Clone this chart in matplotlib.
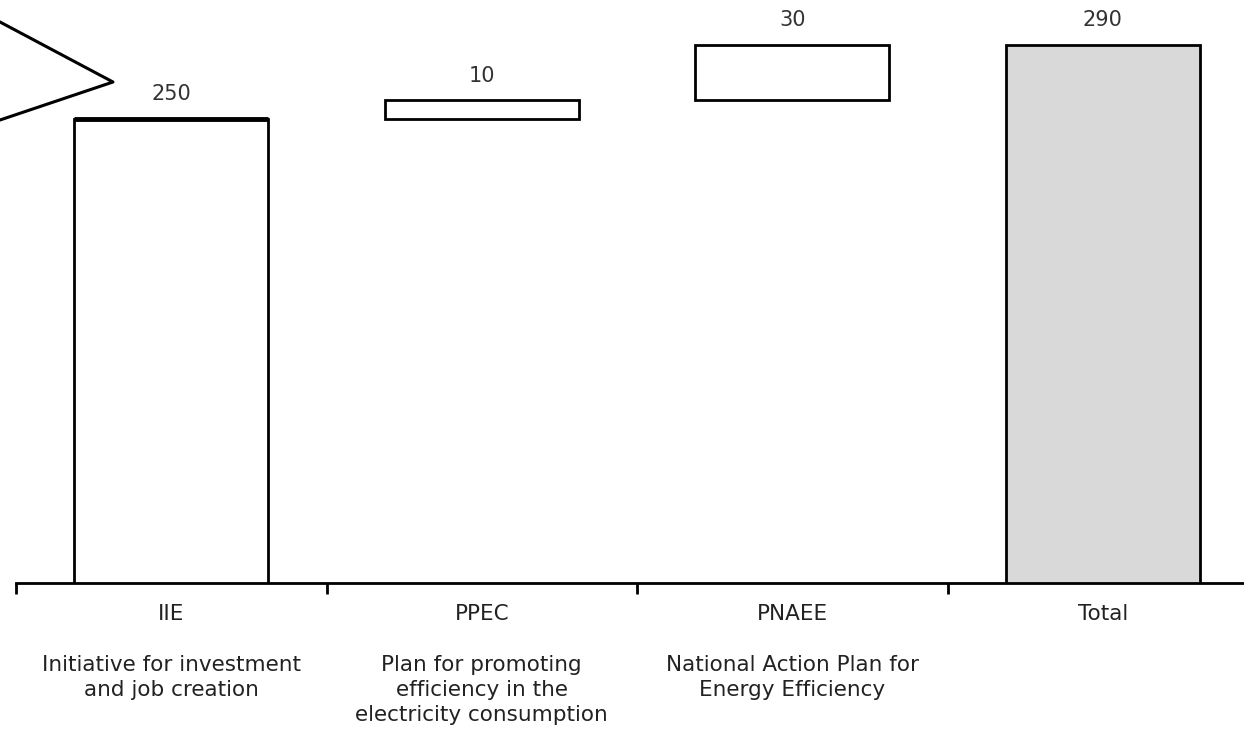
import matplotlib
matplotlib.use("Agg")
import matplotlib.pyplot as plt
from matplotlib.lines import Line2D

plt.rcParams['font.family'] = ['DejaVu Sans']

categories = ["IIE", "PPEC", "PNAEE", "Total"]
descriptions = [
    "Initiative for investment\nand job creation",
    "Plan for promoting\nefficiency in the\nelectricity consumption",
    "National Action Plan for\nEnergy Efficiency",
    "",
]
values = [250, 10, 30, 290]
is_total = [False, False, False, True]

W, H = 1244, 740
fig = plt.figure(figsize=(W / 100, H / 100), dpi=100)
ax = fig.add_axes([16 / W, 157 / H, 1242 / W, 575.4 / H])

# waterfall bases
bases = []
running = 0
for v, t in zip(values, is_total):
    if t:
        bases.append(0)
    else:
        bases.append(running)
        running += v

colors = ["#d9d9d9" if t else "white" for t in is_total]
x = list(range(len(categories)))
ax.bar(x, values, bottom=bases, width=0.625, color=colors,
       edgecolor="black", linewidth=2, zorder=3)

# connector thickening on the first bar top
ax.plot([-0.3125, 0.3125], [bases[1], bases[1]], color="black", lw=3.5,
        solid_capstyle="butt", zorder=4)

for xi, b, v in zip(x, bases, values):
    ax.text(xi, b + v + 8, f"{v}", ha="center", va="bottom",
            fontsize=15, color="#333333")

ax.set_xlim(-0.5, 3.5)
ax.set_ylim(0, 310)
for s in ["top", "right", "left"]:
    ax.spines[s].set_visible(False)
ax.spines["bottom"].set_linewidth(2)
ax.set_yticks([])
ax.set_xticks([-0.5, 0.5, 1.5, 2.5])
ax.set_xticklabels([])
ax.tick_params(axis="x", direction="out", length=8, width=2)

for xi, c, d in zip(x, categories, descriptions):
    ax.annotate(c, xy=(xi, 0), xycoords="data", xytext=(0, -22),
                textcoords="offset points", ha="center", va="center",
                fontsize=15.5, color="#222222", annotation_clip=False)
    if d:
        ax.annotate(d, xy=(xi, 0), xycoords="data", xytext=(0, -52),
                    textcoords="offset points", ha="center", va="top",
                    fontsize=15.5, color="#222222", linespacing=1.3,
                    annotation_clip=False)

# callout pointer at top left
fig.add_artist(Line2D([0 / W, 113 / W, 0 / W],
                      [1 - 22 / H, 1 - 82 / H, 1 - 120 / H],
                      transform=fig.transFigure, color="black", lw=2.2))

fig.savefig("out.png", dpi=100)
